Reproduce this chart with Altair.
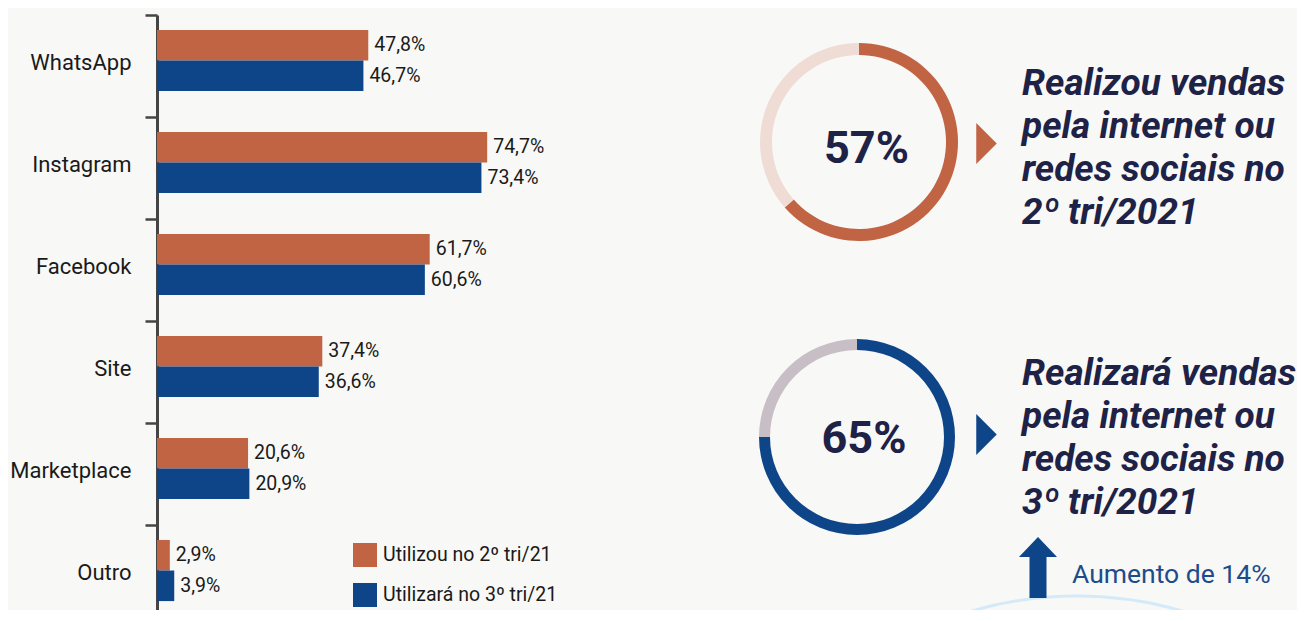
import altair as alt
import pandas as pd

# ---------------- data ----------------
categories = ["WhatsApp", "Instagram", "Facebook", "Site", "Marketplace", "Outro"]
series = ["Utilizou no 2º tri/21", "Utilizará no 3º tri/21"]
used_q2 = [47.8, 74.7, 61.7, 37.4, 20.6, 2.9]
will_use_q3 = [46.7, 73.4, 60.6, 36.6, 20.9, 3.9]

ring_parts = ["realizou", "restante"]
ring_q2 = [63.5, 36.5]   # ring extent as drawn
ring_q3 = [75.0, 25.0]   # ring extent as drawn
ring_labels = ["57%", "65%"]

text_q2 = ["Realizou vendas", "pela internet ou", "redes sociais no", "2º tri/2021"]
text_q3 = ["Realizará vendas", "pela internet ou", "redes sociais no", "3º tri/2021"]
increase_label = "Aumento de 14%"

# ---------------- styling ----------------
ORANGE = "#C06444"
BLUE = "#0E4589"
PINK = "#EFDCD5"
GREY = "#C8BEC6"
NAVY = "#1E2247"
TXT = "#1A1A1A"
FONT = "Roboto"

rows = []
for s, vals in zip(series, [used_q2, will_use_q3]):
    for c, v in zip(categories, vals):
        rows.append({"cat": c, "serie": s, "valor": v,
                     "rotulo": f"{v:.1f}".replace(".", ",") + "%"})
bars_df = pd.DataFrame(rows)

y_enc = alt.Y(
    "cat:N", sort=categories,
    scale=alt.Scale(range=[7, 619], paddingInner=0, paddingOuter=0),
    axis=alt.Axis(title=None, orient="left", offset=-149, tickBand="extent",
                  domainColor="#454545", domainWidth=3, tickColor="#454545",
                  tickWidth=2.5, tickSize=12, labelFont=FONT, labelFontSize=22,
                  labelColor=TXT, labelPadding=14, labelOffset=-4, grid=False,
                  labelLimit=0),
)
x_enc = alt.X("valor:Q", scale=alt.Scale(domain=[0, 100], range=[149, 591]), axis=None)
yoff = alt.YOffset("serie:N", sort=series,
                   scale=alt.Scale(paddingInner=0, paddingOuter=0.669, align=0.366))

bars = alt.Chart(bars_df).mark_bar().encode(
    x=x_enc, y=y_enc, yOffset=yoff,
    color=alt.Color(
        "serie:N", sort=series,
        scale=alt.Scale(domain=series, range=[ORANGE, BLUE]),
        legend=alt.Legend(orient="none", legendX=345, legendY=535, title=None,
                          symbolType="square", symbolSize=576, symbolStrokeWidth=0,
                          labelFont=FONT, labelFontSize=19.5, labelColor=TXT,
                          labelOffset=6, rowPadding=16, padding=0, direction="vertical",
                          labelLimit=0),
    ),
)
values = alt.Chart(bars_df).mark_text(
    align="left", baseline="middle", dx=6, font=FONT, fontSize=19.5, color=TXT
).encode(x=x_enc, y=y_enc, yOffset=yoff, text="rotulo:N")


def ring(vals, colors, cx, cy, r_out, r_in):
    df = pd.DataFrame({"parte": ring_parts, "fatia": vals, "ordem": list(range(len(vals)))})
    return alt.Chart(df).mark_arc(radius=r_out, radius2=r_in, strokeWidth=0).encode(
        theta=alt.Theta("fatia:Q", stack=True),
        order=alt.Order("ordem:Q"),
        color=alt.Color("parte:N", sort=ring_parts,
                        scale=alt.Scale(domain=ring_parts, range=colors), legend=None),
        x=alt.value(cx), y=alt.value(cy),
    )


one = pd.DataFrame({"k": [0]})

ring1 = ring(ring_q2, [ORANGE, PINK], 851, 134, 99, 87)
ring2 = ring(ring_q3, [BLUE, GREY], 849, 429, 98, 87)

lab1 = alt.Chart(pd.DataFrame({"t": [ring_labels[0]]})).mark_text(
    font=FONT, fontSize=45, fontWeight="bold", color=NAVY, align="center", baseline="middle"
).encode(text="t:N", x=alt.value(858.5), y=alt.value(140.5))
lab2 = alt.Chart(pd.DataFrame({"t": [ring_labels[1]]})).mark_text(
    font=FONT, fontSize=45, fontWeight="bold", color=NAVY, align="center", baseline="middle"
).encode(text="t:N", x=alt.value(856), y=alt.value(430.5))

TRI = "M-0.5,-1L0.5,0L-0.5,1Z"
tri1 = alt.Chart(one).mark_point(shape=TRI, filled=True, size=1681, color=ORANGE,
                                 opacity=1, strokeWidth=0).encode(
    x=alt.value(978.5), y=alt.value(135.5))
tri2 = alt.Chart(one).mark_point(shape=TRI, filled=True, size=1681, color=BLUE,
                                 opacity=1, strokeWidth=0).encode(
    x=alt.value(978.5), y=alt.value(426.5))

txt1 = alt.Chart(one).mark_text(
    text=text_q2, font=FONT, fontSize=37, fontWeight="bold", fontStyle="italic",
    color=NAVY, align="left", baseline="alphabetic", lineHeight=43
).encode(x=alt.value(1014), y=alt.value(87))
txt2 = alt.Chart(one).mark_text(
    text=text_q3, font=FONT, fontSize=37, fontWeight="bold", fontStyle="italic",
    color=NAVY, align="left", baseline="alphabetic", lineHeight=43
).encode(x=alt.value(1014), y=alt.value(377))

ARROW = "M0,-1L0.623,-0.344L0.279,-0.344L0.279,1L-0.279,1L-0.279,-0.344L-0.623,-0.344Z"
arrow = alt.Chart(one).mark_point(shape=ARROW, filled=True, size=3721, color=BLUE,
                                  opacity=1, strokeWidth=0).encode(
    x=alt.value(1030), y=alt.value(559.5))
inc = alt.Chart(one).mark_text(
    text=increase_label, font=FONT, fontSize=26.5, color="#1D4C8C",
    align="left", baseline="alphabetic"
).encode(x=alt.value(1064), y=alt.value(575))

arc_line = alt.Chart(one).mark_point(shape="circle", filled=False, size=568516,
                                     stroke="#D5EAF9", strokeWidth=3, opacity=1).encode(
    x=alt.value(1069), y=alt.value(965))

chart = alt.layer(
    arc_line, bars, values, ring1, ring2, lab1, lab2, tri1, tri2, txt1, txt2, arrow, inc
).resolve_scale(
    color="independent", theta="independent"
).properties(
    width=1289, height=602, autosize=alt.AutoSizeParams(type="none"), padding=0,
    background="#F8F8F6",
).configure_view(stroke=None)

chart.save("out.html", embed_options={"renderer": "svg", "actions": False})
